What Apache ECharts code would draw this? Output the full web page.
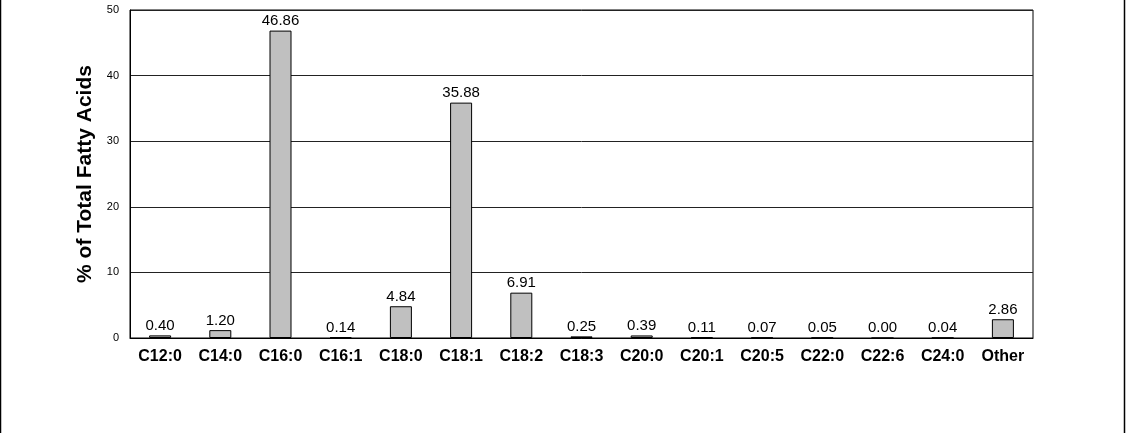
<!DOCTYPE html>
<html><head><meta charset="utf-8">
<script src="https://cdn.jsdelivr.net/npm/echarts@6/dist/echarts.min.js"></script>
<style>html,body{margin:0;padding:0;background:#fff}#c{width:1126px;height:433px}</style>
</head><body><div id="c"></div>
<script>
const categories = ['C12:0','C14:0','C16:0','C16:1','C18:0','C18:1','C18:2','C18:3','C20:0','C20:1','C20:5','C22:0','C22:6','C24:0','Other'];
const values = [0.40,1.20,46.86,0.14,4.84,35.88,6.91,0.25,0.39,0.11,0.07,0.05,0.00,0.04,2.86];
const yTicks = [0,10,20,30,40,50];
const yAxisTitle = '% of Total Fatty Acids';

const chart = echarts.init(document.getElementById('c'), null, {renderer:'canvas'});
chart.setOption({
  animation:false,
  backgroundColor:'#fff',
  grid:{left:130,top:10,width:903,height:328,show:true,borderColor:'#000',borderWidth:1,backgroundColor:'transparent'},
  graphic:[
    {type:'line',shape:{x1:0.5,y1:0,x2:0.5,y2:433},style:{stroke:'#000',lineWidth:1.5}},
    {type:'line',shape:{x1:1124.5,y1:0,x2:1124.5,y2:433},style:{stroke:'#000',lineWidth:1.5}}
  ],
  xAxis:{type:'category',data:categories,
    axisLine:{lineStyle:{color:'#000'}},axisTick:{show:false},
    axisLabel:{color:'#000',fontFamily:'Liberation Sans, Arial',fontWeight:'bold',fontSize:16,margin:11,interval:0}},
  yAxis:{type:'value',min:yTicks[0],max:yTicks[yTicks.length-1],interval:10,
    name:yAxisTitle,nameLocation:'middle',nameGap:34,
    nameTextStyle:{color:'#000',fontFamily:'Liberation Sans, Arial',fontWeight:'bold',fontSize:21},
    axisLine:{show:true,lineStyle:{color:'#000'}},axisTick:{show:false},
    axisLabel:{color:'#000',fontFamily:'Liberation Sans, Arial',fontSize:11,margin:11,formatter:v=>yTicks.includes(v)?String(v):''},
    splitLine:{lineStyle:{color:'#222',width:1}}},
  series:[{type:'bar',data:values,barWidth:22,
    itemStyle:{color:'#c0c0c0',borderColor:'#000',borderWidth:1},
    label:{show:true,position:'top',distance:2,color:'#000',fontFamily:'Liberation Sans, Arial',fontSize:15,
      formatter:p=>p.value.toFixed(2)}}]
});
</script></body></html>
